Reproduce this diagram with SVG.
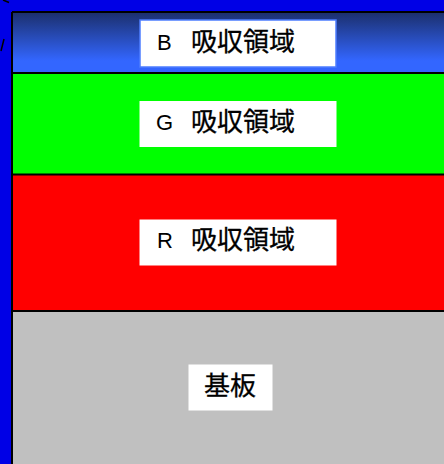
<svg xmlns="http://www.w3.org/2000/svg" width="444" height="464" viewBox="0 0 444 464">
<style>
.lbl{fill:#fff}
.t{font-family:"Liberation Sans","Noto Sans CJK JP",sans-serif;font-size:22px;fill:#000}
.k{font-family:"Noto Sans CJK JP",sans-serif;font-size:26px;fill:#000;stroke:#000;stroke-width:0.3}
.sep{stroke:#000;stroke-width:2}
</style>
<defs>
<linearGradient id="bg" x1="0" y1="0" x2="0" y2="1">
<stop offset="0" stop-color="#1b2f6c"/>
<stop offset="0.8" stop-color="#3366ff"/>
<stop offset="1" stop-color="#3366ff"/>
</linearGradient>
</defs>
<rect x="0" y="0" width="444" height="464" fill="#0000e6"/>
<path d="M3,0 L9,2.5 M4,39 L1,51" stroke="#000" stroke-width="1.5" fill="none"/>
<g id="layer-b">
<rect x="12" y="12" width="432" height="61" fill="url(#bg)"/>
</g>
<g id="layer-g">
<rect x="12" y="73" width="432" height="101" fill="#00ff00"/>
</g>
<g id="layer-r">
<rect x="12" y="174" width="432" height="137" fill="#ff0000"/>
</g>
<g id="substrate">
<rect x="12" y="311" width="432" height="153" fill="#c0c0c0"/>
</g>
<g id="connectors">
<line class="sep" x1="12" y1="73" x2="444" y2="73"/>
<line class="sep" x1="12" y1="174.5" x2="444" y2="174.5"/>
<line class="sep" x1="12" y1="311" x2="444" y2="311"/>
<line x1="12" y1="12" x2="444" y2="12" stroke="#000" stroke-width="2"/>
<line x1="12" y1="12" x2="12" y2="464" stroke="#000" stroke-width="2"/>
</g>
<g id="label-b">
<rect x="140" y="20" width="196" height="47" class="lbl" stroke="#4d7dff" stroke-width="1.5"/>
<text x="157" y="49.5" class="t">B</text>
<text x="191" y="50.5" class="k">吸収領域</text>
</g>
<g id="label-g">
<rect x="139.5" y="101" width="197" height="46" class="lbl"/>
<text x="156" y="129.5" class="t">G</text>
<text x="191" y="130.5" class="k">吸収領域</text>
</g>
<g id="label-r">
<rect x="139.5" y="219.5" width="197" height="46" class="lbl"/>
<text x="157" y="248" class="t">R</text>
<text x="191" y="249" class="k">吸収領域</text>
</g>
<g id="label-substrate">
<rect x="188.5" y="364.5" width="84" height="46" class="lbl"/>
<text x="204" y="395" class="k">基板</text>
</g>
</svg>
